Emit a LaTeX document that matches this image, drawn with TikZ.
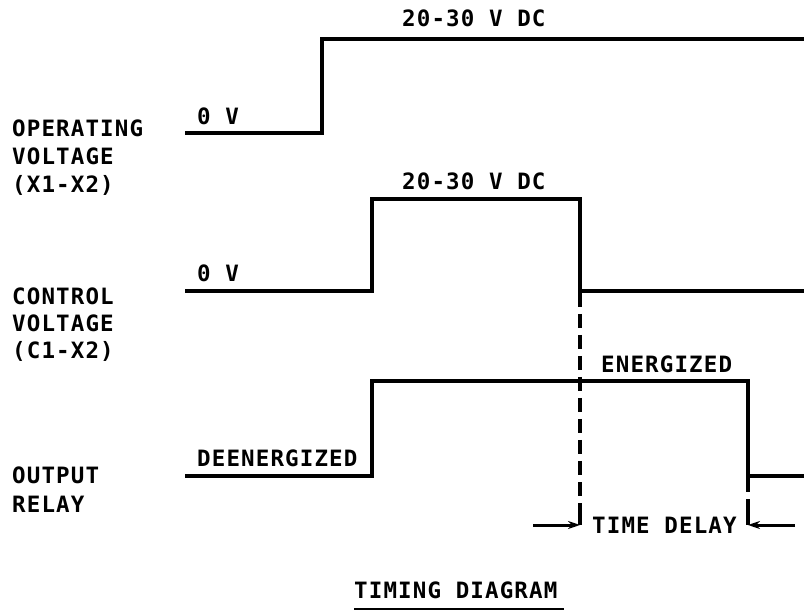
\documentclass[tikz,border=0pt]{standalone}
\usepackage{fontspec}
\usetikzlibrary{arrows.meta}
\newfontfamily\plotfont[LetterSpace=5]{DejaVu Sans Mono Bold}
\begin{document}
\begin{tikzpicture}[x=1pt,y=-1pt,
  wave/.style={line width=3.2pt},
  dashline/.style={line width=3.2pt, dash pattern=on 14pt off 7pt},
  lbl/.style={anchor=base west, inner sep=0pt, font=\plotfont\fontsize{22.5}{28}\selectfont},
  dimarrow/.style={line width=3pt, -{Stealth[length=12pt,width=8pt]}}]
\useasboundingbox (0,0) rectangle (804,612);
% left labels
\node[lbl] (op1) at (12,137) {OPERATING};
\node[lbl] (op2) at (12,165) {VOLTAGE};
\node[lbl] (op3) at (12,193) {(X1-X2)};
\node[lbl] (ct1) at (12,305) {CONTROL};
\node[lbl] (ct2) at (12,332) {VOLTAGE};
\node[lbl] (ct3) at (12,359) {(C1-X2)};
\node[lbl] (or1) at (12,484) {OUTPUT};
\node[lbl] (or2) at (12,512) {RELAY};
% level labels
\node[lbl] (ophi) at (402,27) {20-30 V DC};
\node[lbl] (oplo) at (197,125) {0 V};
\node[lbl] (cthi) at (402,190) {20-30 V DC};
\node[lbl] (ctlo) at (197,282) {0 V};
\node[lbl] (orhi) at (601,373) {ENERGIZED};
\node[lbl] (orlo) at (197,467) {DEENERGIZED};
% waveforms
\draw[wave] (185,133) -- (322,133) -- (322,39) -- (804,39);
\draw[wave] (185,291) -- (372,291) -- (372,199) -- (580,199) -- (580,291) -- (804,291);
\draw[wave] (185,476) -- (372,476) -- (372,381) -- (748,381) -- (748,476) -- (804,476);
% time delay
\coordinate (d1top) at (580,293);
\coordinate (d1bot) at (580,525);
\coordinate (d2top) at (748,478);
\coordinate (d2bot) at (748,525);
\coordinate (la) at (533,525);
\coordinate (ra) at (795,525);
\draw[dashline] (d1top) -- (580,512);
\draw[wave] (580,512) -- (d1bot);
\draw[dashline] (d2top) -- (748,512);
\draw[wave] (748,512) -- (d2bot);
\draw[dimarrow] (la) -- (d1bot);
\draw[dimarrow] (ra) -- (d2bot);
\node[lbl] (td) at (592,533) {TIME DELAY};
% title
\node[lbl] (title) at (354,598) {TIMING DIAGRAM};
\draw[line width=2.6pt] ([yshift=-11pt]title.base west) -- (564,609);
\end{tikzpicture}
\end{document}
